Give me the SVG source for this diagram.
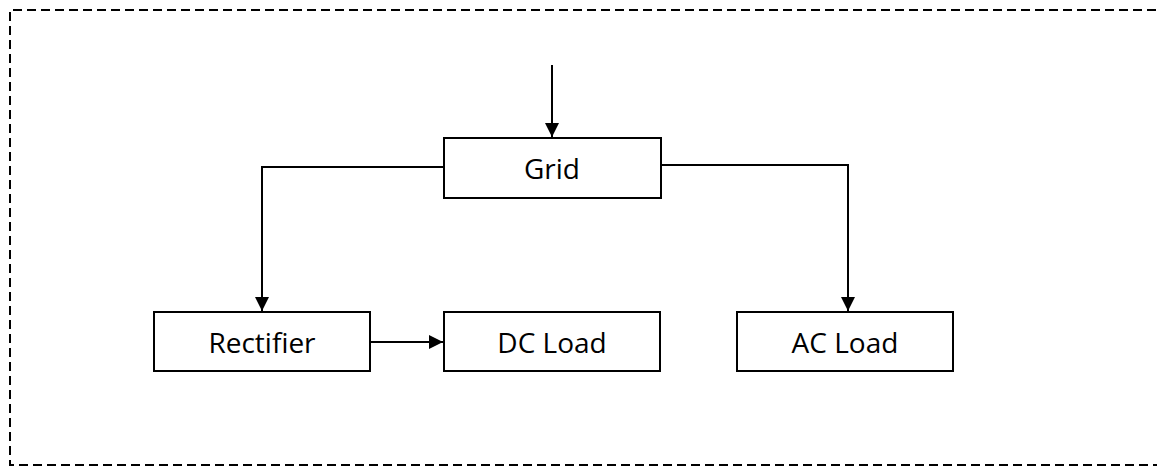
<svg xmlns="http://www.w3.org/2000/svg" width="1157" height="466" viewBox="0 0 1157 466">
  <style>
    .box { fill: #ffffff; stroke: #000000; stroke-width: 2; }
    .lbl { font-family: "Open Sans", "Liberation Sans", sans-serif; font-size: 28px; fill: #000000; text-anchor: middle; }
    .conn { fill: none; stroke: #000000; stroke-width: 2; }
    .frame { fill: none; stroke: #000000; stroke-width: 2; stroke-dasharray: 9 5; }
  </style>
  <defs>
    <marker id="arrow" viewBox="0 0 14 14" refX="14" refY="7" markerWidth="14" markerHeight="14" markerUnits="userSpaceOnUse" orient="auto">
      <path d="M0,0 L14,7 L0,14 Z" fill="#000000"/>
    </marker>
  </defs>
  <rect width="1157" height="466" fill="#ffffff"/>
  <path class="frame" d="M1170,10 L10,10 L10,465 L1170,465"/>
  <g id="connectors">
    <path class="conn" d="M552,65 L552,137" marker-end="url(#arrow)"/>
    <path class="conn" d="M444,167 L262,167 L262,311" marker-end="url(#arrow)"/>
    <path class="conn" d="M661,165 L848,165 L848,311" marker-end="url(#arrow)"/>
    <path class="conn" d="M370,342 L443,342" marker-end="url(#arrow)"/>
  </g>
  <g id="grid">
    <rect class="box" x="444" y="138" width="217" height="60"/>
    <text class="lbl" x="552" y="179">Grid</text>
  </g>
  <g id="rectifier">
    <rect class="box" x="154" y="312" width="216" height="59"/>
    <text class="lbl" x="262" y="353">Rectifier</text>
  </g>
  <g id="dc-load">
    <rect class="box" x="444" y="312" width="216" height="59"/>
    <text class="lbl" x="552" y="353">DC Load</text>
  </g>
  <g id="ac-load">
    <rect class="box" x="737" y="312" width="216" height="59"/>
    <text class="lbl" x="845" y="353">AC Load</text>
  </g>
</svg>
